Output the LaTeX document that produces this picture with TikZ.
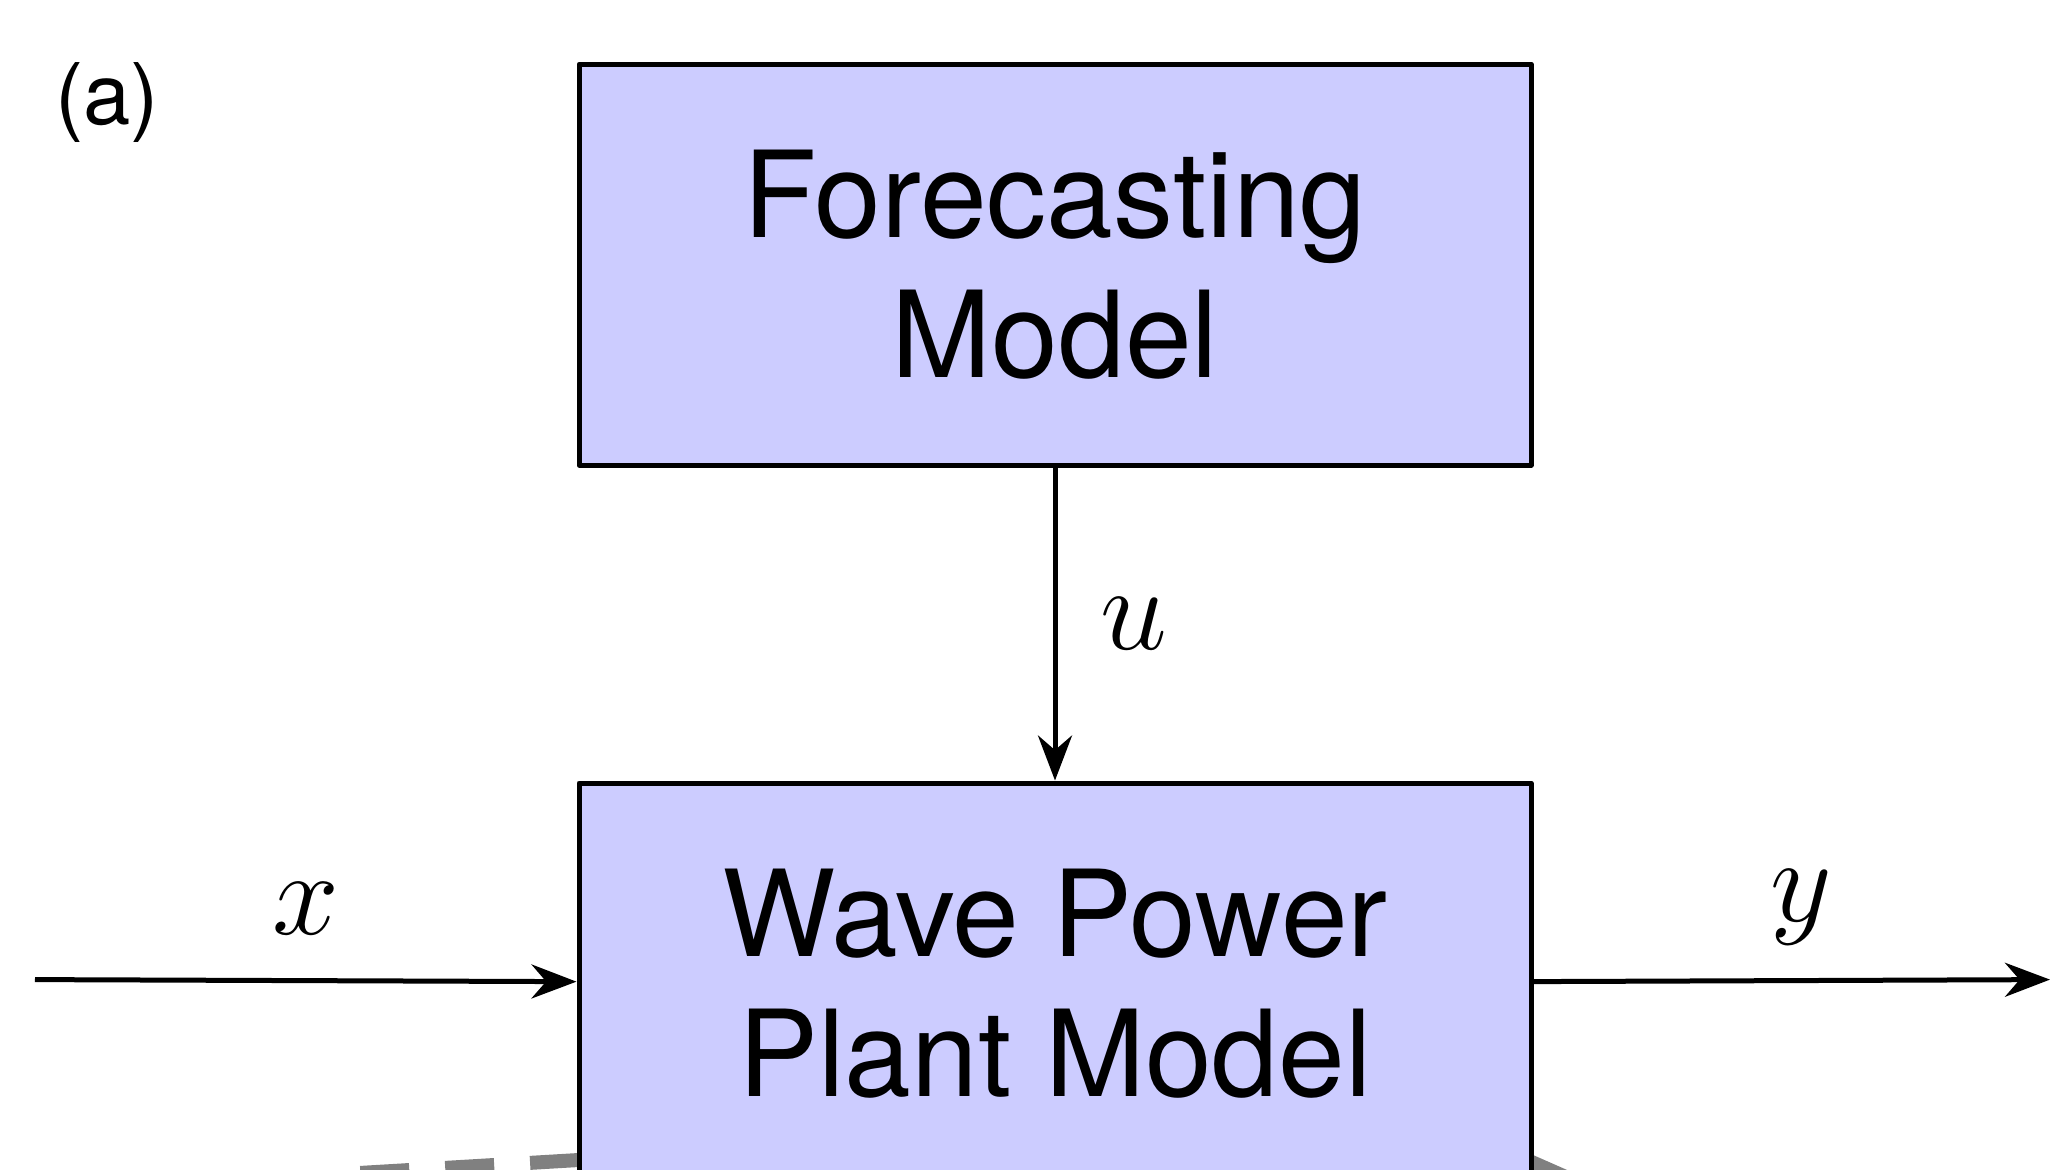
\documentclass[tikz,border=0pt]{standalone}
\usepackage{fontspec}
\setsansfont{TeX Gyre Heros}
\usetikzlibrary{positioning,arrows.meta}

\begin{document}
\begin{tikzpicture}[line join=round, line width=0.5pt, >={Stealth[length=4.5pt, width=3.4pt]}, font=\large,
	block/.style={draw, fill=blue!20, font=\large\sffamily, align=center, minimum width=3.346cm, minimum height=1.409cm},
	zoomline/.style={gray, line width=1.4pt, dash pattern=on 4.9pt off 3.6pt}]
	\useasboundingbox (0,0) rectangle (7.205,-4.112);
	\path
	(2.035,-4.077) coordinate (L1)
	(1.258,-4.123) coordinate (L2)
	(5.342,-4.066) coordinate (R1)
	(5.694,-4.221) coordinate (R2)
	(0.123,-3.443) coordinate (X)
	(7.205,-3.443) coordinate (Y);
	
	% gray guide lines, behind the blocks
	\draw[zoomline] (L1)--(L2);
	\draw[zoomline] (R1)--(R2);
	
	\node[block] (fc) at (3.708,-0.930) {Forecasting\\Model};
	\node[block, below=1.1cm of fc] (wpp) {Wave Power\\Plant Model};
	\node[font=\fontsize{8.5}{10}\selectfont\sffamily] (lbl) at (0.376,-0.362) {(a)};
	
	\draw[->] (fc)--(wpp) node[midway, right=1pt]{$u$};
	\draw[->] (X)--(wpp) node[midway, above, yshift=1pt]{$x$};
	\draw[->] (wpp)--(Y) node[midway, above, xshift=1pt]{$y$};
\end{tikzpicture}
\end{document}
